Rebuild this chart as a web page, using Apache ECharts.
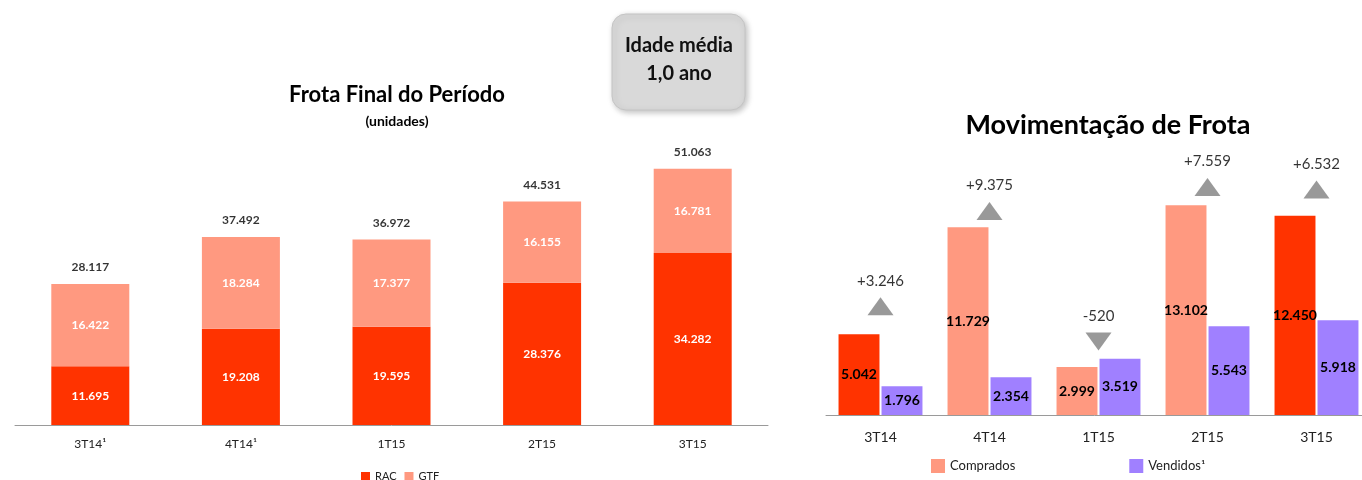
<!DOCTYPE html>
<html>
<head>
<meta charset="utf-8">
<title>Frota</title>
<script type="text/javascript" src="https://cdn.jsdelivr.net/npm/echarts@6/dist/echarts.min.js"></script>
<style>
  html, body { margin: 0; padding: 0; background: #fff; }
  #chart_view { width: 1362px; height: 480px; }
</style>
</head>
<body>
<div id="chart_view"></div>
<script type="text/javascript">
  // Frota Final do Período
  var frota_cat = ['3T14¹', '4T14¹', '1T15', '2T15', '3T15'];
  var frota_rac = [11695, 19208, 19595, 28376, 34282];
  var frota_gtf = [16422, 18284, 17377, 16155, 16781];
  var frota_total = [28117, 37492, 36972, 44531, 51063];

  // Movimentação de Frota
  var mov_cat = ['3T14', '4T14', '1T15', '2T15', '3T15'];
  var mov_comprados = [5042, 11729, 2999, 13102, 12450];
  var mov_vendidos = [1796, 2354, 3519, 5543, 5918];
  var mov_liquido = [3246, 9375, -520, 7559, 6532];
  var mov_seta = [6800, 12750, 4600, 14250, 14100];   // altura das setas (unidades)
  var mov_destaque = ['3T14', '3T15'];                 // comprados em vermelho

  var RED = '#ff3300', SALMON = '#ff9980', PURPLE = '#a080ff';
  var FONT = 'Lato';

  function fmt(v) {
    var s = String(Math.abs(v)).replace(/\B(?=(\d{3})+(?!\d))/g, '.');
    return (v < 0 ? '-' : '') + s;
  }

  var comprados_data = [];
  for (var i = 0; i < mov_comprados.length; i++) {
    var item = { value: mov_comprados[i] };
    if (mov_destaque.indexOf(mov_cat[i]) >= 0) item.itemStyle = { color: RED };
    comprados_data.push(item);
  }
  var seta_data = [];
  for (var j = 0; j < mov_seta.length; j++) {
    seta_data.push({ value: mov_seta[j], net: mov_liquido[j], symbolRotate: mov_liquido[j] < 0 ? 180 : 0 });
  }

  var myChart = echarts.init(document.getElementById('chart_view'));
  var option = {
    textStyle: { fontFamily: FONT },
    animation: false,
    title: [
      { text: 'Frota Final do Período', left: 392, top: 79, textAlign: 'center',
        textStyle: { fontFamily: FONT, fontSize: 22, fontWeight: 'bold', color: '#000' } },
      { text: '(unidades)', left: 392, top: 109, textAlign: 'center',
        textStyle: { fontFamily: FONT, fontSize: 14, fontWeight: 'bold', color: '#000' } },
      { text: 'Movimentação de Frota', left: 1103, top: 107, textAlign: 'center',
        textStyle: { fontFamily: FONT, fontSize: 27, fontWeight: 'bold', color: '#000' } }
    ],
    legend: [
      { data: ['RAC', 'GTF'], left: 356, top: 466, itemWidth: 9, itemHeight: 9, itemGap: 8,
        icon: 'rect', textStyle: { fontFamily: FONT, fontSize: 11, color: '#222' } },
      { data: ['Comprados', 'Vendidos¹'], left: 926, top: 454, itemWidth: 14, itemHeight: 14, itemGap: 114,
        icon: 'rect', textStyle: { fontFamily: FONT, fontSize: 13, color: '#222' } }
    ],
    grid: [
      { left: 15, width: 753, top: 124, bottom: 55, outerBoundsMode: 'none' },
      { left: 826, width: 545, top: 159, bottom: 65, outerBoundsMode: 'none' }
    ],
    xAxis: [
      { type: 'category', gridIndex: 0, data: frota_cat,
        axisLine: { lineStyle: { color: '#9a9a9a' } },
        axisTick: { length: 5, lineStyle: { color: '#9a9a9a' } },
        axisLabel: { margin: 13, fontFamily: FONT, fontSize: 12, color: '#222' } },
      { type: 'category', gridIndex: 1, data: mov_cat,
        axisLine: { lineStyle: { color: '#9a9a9a' } },
        axisTick: { length: 5, lineStyle: { color: '#9a9a9a' } },
        axisLabel: { margin: 15, fontFamily: FONT, fontSize: 14, color: '#222' } }
    ],
    yAxis: [
      { type: 'value', gridIndex: 0, min: 0, max: 60000, show: false },
      { type: 'value', gridIndex: 1, min: 0, max: 16000, show: false }
    ],
    series: [
      { name: 'RAC', type: 'bar', stack: 'frota', xAxisIndex: 0, yAxisIndex: 0, barWidth: 78,
        itemStyle: { color: RED }, data: frota_rac,
        label: { show: true, position: 'inside', color: '#fff', fontFamily: FONT, fontSize: 12, fontWeight: 'bold',
                 formatter: function(p) { return fmt(p.value); } } },
      { name: 'GTF', type: 'bar', stack: 'frota', xAxisIndex: 0, yAxisIndex: 0, barWidth: 78,
        itemStyle: { color: SALMON }, data: frota_gtf,
        label: { show: true, position: 'inside', color: '#fff', fontFamily: FONT, fontSize: 12, fontWeight: 'bold',
                 formatter: function(p) { return fmt(p.value); } } },
      { name: 'Total', type: 'scatter', xAxisIndex: 0, yAxisIndex: 0, symbolSize: 1,
        itemStyle: { color: 'rgba(0,0,0,0)' }, data: frota_total,
        label: { show: true, position: 'top', distance: 10, color: '#000', fontFamily: FONT, fontSize: 12, fontWeight: 'bold',
                 formatter: function(p) { return fmt(p.value); } } },
      { name: 'Comprados', type: 'bar', xAxisIndex: 1, yAxisIndex: 1, barCategoryGap: '23%', barGap: '5%',
        itemStyle: { color: SALMON }, data: comprados_data,
        label: { show: true, position: 'inside', color: '#000', fontFamily: FONT, fontSize: 14, fontWeight: 'bold',
                 formatter: function(p) { return fmt(p.value); } } },
      { name: 'Vendidos¹', type: 'bar', xAxisIndex: 1, yAxisIndex: 1, barCategoryGap: '23%', barGap: '5%',
        itemStyle: { color: PURPLE }, data: mov_vendidos,
        label: { show: true, position: 'inside', color: '#000', fontFamily: FONT, fontSize: 14, fontWeight: 'bold',
                 formatter: function(p) { return fmt(p.value); } } },
      { name: 'Liquido', type: 'scatter', xAxisIndex: 1, yAxisIndex: 1, symbol: 'triangle', symbolSize: [26, 18],
        itemStyle: { color: '#7f7f7f' }, data: seta_data, z: 5,
        label: { show: true, position: 'top', distance: 9, color: '#000', fontFamily: FONT, fontSize: 15,
                 formatter: function(p) { var n = p.data.net; return (n > 0 ? '+' : '') + fmt(n); } } }
    ],
    graphic: [
      { type: 'rect', shape: { x: 612, y: 14, width: 133, height: 96, r: 14 },
        style: { fill: '#d9d9d9', stroke: '#c4c4c4', lineWidth: 1,
                 shadowBlur: 6, shadowOffsetX: 2, shadowOffsetY: 2, shadowColor: 'rgba(0,0,0,0.25)' } },
      { type: 'text', x: 679, y: 46, style: { text: 'Idade média', fill: '#111', font: 'bold 20px Lato', align: 'center', verticalAlign: 'middle' } },
      { type: 'text', x: 679, y: 74, style: { text: '1,0 ano', fill: '#111', font: 'bold 20px Lato', align: 'center', verticalAlign: 'middle' } }
    ]
  };
  myChart.setOption(option);
</script>
</body>
</html>
